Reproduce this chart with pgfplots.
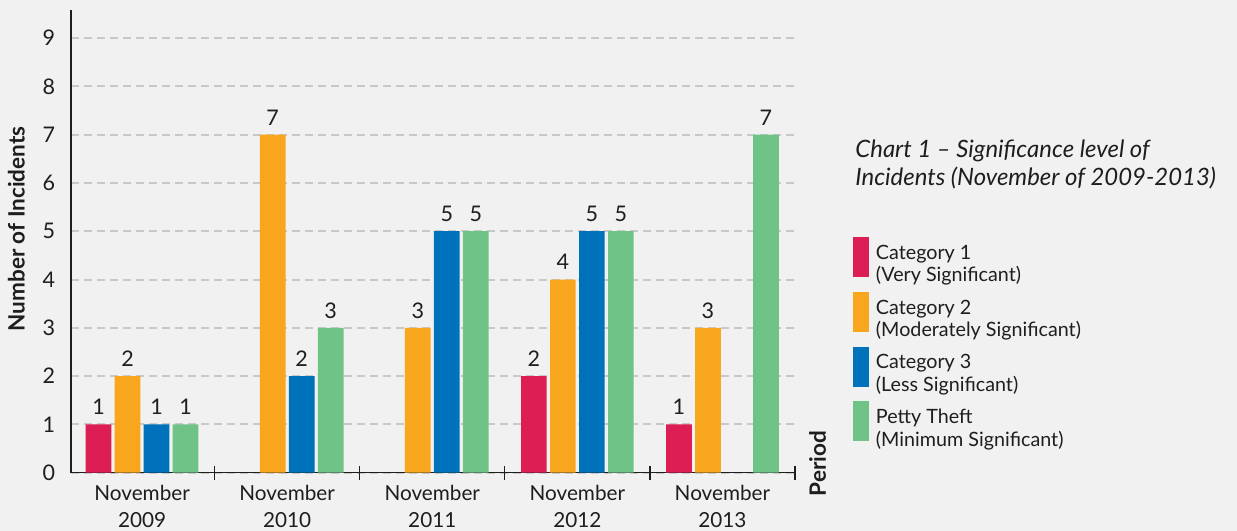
\documentclass[border=0pt]{standalone}
\usepackage{fontspec}
\setmainfont{Lato}
\usepackage{pgfplots}
\pgfplotsset{compat=1.18}
\definecolor{bg}{RGB}{241,241,241}
\definecolor{gridc}{RGB}{200,200,200}
\definecolor{axisc}{RGB}{30,30,30}
\definecolor{textc}{RGB}{30,30,30}
\definecolor{cA}{RGB}{220,30,85}
\definecolor{cB}{RGB}{248,166,30}
\definecolor{cC}{RGB}{0,114,187}
\definecolor{cD}{RGB}{112,195,135}
\pgfplotsset{mylegend/.style={legend image code/.code={\fill[##1] (0bp,-12bp) rectangle (8bp,8bp);}}}
\newcommand{\leg}[2]{\begin{tabular}[t]{@{}l@{}}#1\\#2\end{tabular}}
\begin{document}
\begin{tikzpicture}
\fill[bg] (0,0) rectangle (618.5bp,265.5bp);
\path[use as bounding box] (0,0) rectangle (618.5bp,265.5bp);
\begin{axis}[
  at={(35.5bp,29.15bp)}, anchor=south west,
  scale only axis, width=362bp, height=231.35bp,
  xmin=-0.49, xmax=4.5, ymin=0, ymax=9.58,
  axis x line=bottom, axis y line=left,
  axis line style={-, line width=0.6bp, color=axisc},
  ybar=1.65bp, bar width=12.85bp,
  xtick={0,1,2,3,4},
  xticklabels={{November\\2009},{November\\2010},{November\\2011},{November\\2012},{November\\2013}},
  minor xtick={0.5,1.5,2.5,3.5,4.5},
  major tick length=0pt, minor tick length=7bp, tick align=center,
  minor tick style={line width=0.6bp, color=axisc},
  ytick={0,...,9},
  ymajorgrids,
  major grid style={dash pattern=on 4bp off 2.5bp, line width=1bp, color=gridc},
  /pgf/number format/assume math mode=true,
  yticklabel style={anchor=east, inner sep=0pt, xshift=-7.75bp, font=\fontsize{10.8}{12}\selectfont, text=textc},
  xticklabel style={anchor=north, inner sep=0pt, yshift=-6bp, align=center, font=\fontsize{10.4}{13.5}\selectfont, text=textc},
  nodes near coords,
  nodes near coords style={anchor=south, inner sep=0pt, yshift=4.6bp, font=\fontsize{10.8}{12}\selectfont, text=textc},
  legend style={at={(1.0801,0.5094)}, anchor=north west, draw=none, fill=none, inner sep=0pt, outer sep=0pt, row sep=7.4bp, column sep=1.5bp, font=\fontsize{9.9}{11.3}\selectfont, text=textc},
  legend cell align=left,
]
\addplot[fill=cA, draw=none, mylegend] coordinates {(0,1) (3,2) (4,1)};
\addlegendentry{\leg{Category 1}{(Very Significant)}}
\addplot[fill=cB, draw=none, mylegend] coordinates {(0,2) (1,7) (2,3) (3,4) (4,3)};
\addlegendentry{\leg{Category 2}{(Moderately Significant)}}
\addplot[fill=cC, draw=none, mylegend] coordinates {(0,1) (1,2) (2,5) (3,5)};
\addlegendentry{\leg{Category 3}{(Less Significant)}}
\addplot[fill=cD, draw=none, mylegend] coordinates {(0,1) (1,3) (2,5) (3,5) (4,7)};
\addlegendentry{\leg{Petty Theft}{(Minimum Significant)}}
\end{axis}
\node[rotate=90, font=\fontsize{11.3}{12}\selectfont\bfseries, text=textc] at (8.2bp,151bp) {Number of Incidents};
\node[rotate=90, font=\fontsize{11.3}{12}\selectfont\bfseries, text=textc] at (408.75bp,33.75bp) {Period};
\node[anchor=base west, inner sep=0pt, font=\fontsize{12}{13}\selectfont\itshape, text=textc] at (427.5bp,186.5bp) {Chart 1 – Significance level of};
\node[anchor=base west, inner sep=0pt, font=\fontsize{12}{13}\selectfont\itshape, text=textc] at (427.5bp,172.5bp) {Incidents (November of 2009-2013)};
\end{tikzpicture}
\end{document}
